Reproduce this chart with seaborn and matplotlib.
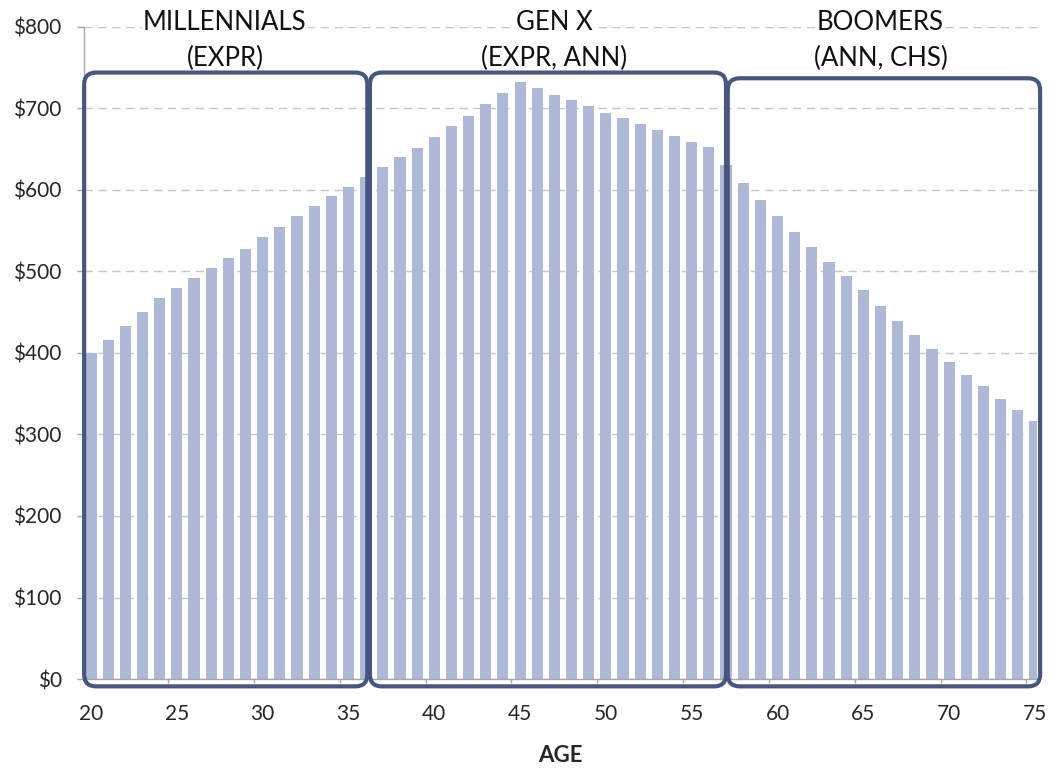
import matplotlib
matplotlib.use("Agg")
import matplotlib.pyplot as plt
import seaborn as sns
import pandas as pd
from matplotlib.patches import FancyBboxPatch
from matplotlib.ticker import FuncFormatter, FixedLocator

# Average spending by age
ages = list(range(20, 76))
spending = [400, 416, 433, 450, 468, 480, 492, 504, 516, 528, 542, 555, 568, 580, 592, 604, 616,
            628, 640, 652, 665, 678, 691, 705, 719, 733, 725, 717, 710, 703, 695, 688, 681, 674,
            666, 659, 653,
            631, 609, 588, 568, 548, 530, 512, 494, 477, 458, 439, 422, 405, 389, 373, 359, 344,
            330, 317]

# Generations and their products
group_names = ["MILLENNIALS", "GEN X", "BOOMERS"]
group_products = ["(EXPR)", "(EXPR, ANN)", "(ANN, CHS)"]

x_ticks = list(range(20, 80, 5))
y_ticks = list(range(0, 900, 100))

sns.set_style("white")
plt.rcParams["font.family"] = ["Lato", "DejaVu Sans"]

BAR = "#adb9d6"
BOX = "#46567f"
AXIS = "#a6a6a6"

fig = plt.figure(figsize=(10.51, 7.69), dpi=100)
ax = fig.add_axes([0.0799, 0.117, 0.9068, 0.848])

df = pd.DataFrame({"age": ages, "spending": spending})
sns.barplot(data=df, x="age", y="spending", native_scale=True, width=0.65,
            color=BAR, saturation=1, linewidth=0, ax=ax, zorder=2)

ax.set_xlim(19.59, 75.12)
ax.set_ylim(0, 800)

# axes styling
ax.set_axisbelow(True)
ax.yaxis.grid(True, linestyle=(0, (6, 4)), color="#c6c6c6", lw=1)
ax.xaxis.grid(False)
for s in ("top", "right"):
    ax.spines[s].set_visible(False)
for s in ("left", "bottom"):
    ax.spines[s].set_color(AXIS)
    ax.spines[s].set_linewidth(1)

ax.yaxis.set_major_locator(FixedLocator(y_ticks))
ax.yaxis.set_major_formatter(FuncFormatter(lambda v, p: f"${v:.0f}"))
ax.tick_params(axis="y", direction="out", length=5, width=1, color=AXIS,
               labelsize=15, pad=11, left=True)

ax.xaxis.set_major_locator(FixedLocator(x_ticks))
ax.xaxis.set_minor_locator(FixedLocator([t + 4.5 for t in x_ticks[:-1]]))
ax.tick_params(axis="x", which="major", length=0, labelsize=15, pad=18)
ax.tick_params(axis="x", which="minor", direction="out", length=3, width=1,
               color=AXIS, bottom=True)

ax.set_xlabel("AGE", fontsize=16, fontweight="bold", labelpad=15)
ax.set_ylabel("")

# generation boxes
fig.canvas.draw()
bb = ax.get_window_extent()
x0, x1 = ax.get_xlim()
y0, y1 = ax.get_ylim()
px_x = bb.width / (x1 - x0)
px_y = bb.height / (y1 - y0)
aspect = px_x / px_y

spans = [(19.6, 36.1, 744), (36.25, 57.0, 744), (57.1, 75.3, 737)]
label_x = [27.8, 47.0, 66.0]
for (a, b, top), name, prod, lx in zip(spans, group_names, group_products, label_x):
    bottom = -9
    patch = FancyBboxPatch((a, bottom), b - a, top - bottom,
                           boxstyle="round,pad=0,rounding_size=0.7",
                           mutation_aspect=aspect, fill=False, ec=BOX, lw=3,
                           transform=ax.transData, clip_on=False, zorder=4)
    ax.add_patch(patch)
    ax.text(lx, 806, name, ha="center", va="center", fontsize=18.5, color="#111111",
            clip_on=False, zorder=5,
            bbox=dict(facecolor="white", edgecolor="none", pad=1))
    ax.text(lx, 761, prod, ha="center", va="center", fontsize=18.5, color="#111111",
            clip_on=False, zorder=5)

fig.savefig("out.png", dpi=100)
